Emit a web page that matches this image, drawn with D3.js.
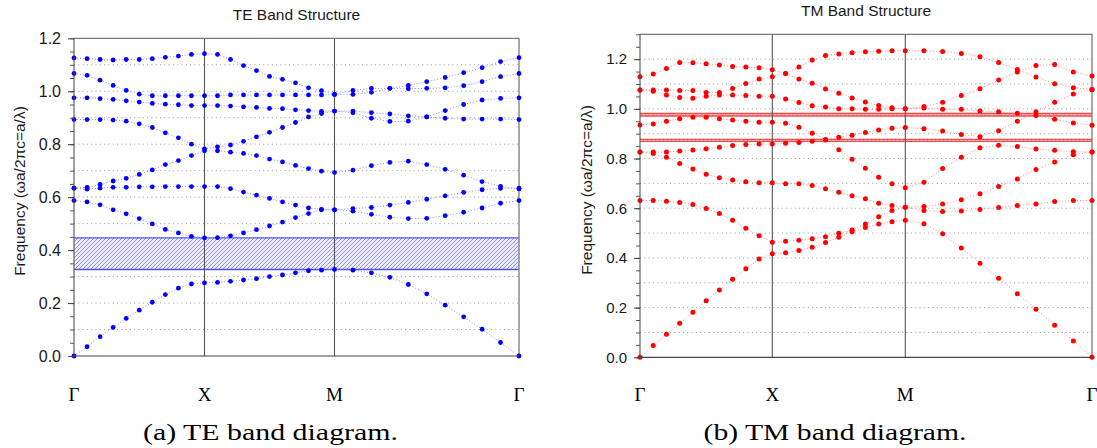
<!DOCTYPE html>
<html>
<head>
<meta charset="utf-8">
<script src="https://cdn.jsdelivr.net/npm/d3@7"></script>
<style>
body { margin: 0; background: #fff; }
svg text { font-family: "Liberation Sans", Arial, sans-serif; }
</style>
</head>
<body>
<div id="chart"></div>
<script>
// k-path: G -> X -> M -> G, 10 steps per segment
var kLabels = ["Γ", "X", "M", "Γ"];
var kIndex = [0, 10, 20, 30];

// TE bands (frequency wa/2pic), 31 k-points each
var te1 = [0, 0.035, 0.073, 0.108, 0.142, 0.173, 0.203, 0.232, 0.256, 0.272, 0.276,
  0.278, 0.282, 0.287, 0.292, 0.300, 0.306, 0.314, 0.322, 0.324, 0.327,
  0.324, 0.314, 0.297, 0.270, 0.235, 0.192, 0.148, 0.101, 0.051, 0];
var te2 = [0.587, 0.582, 0.571, 0.552, 0.537, 0.519, 0.499, 0.478, 0.465, 0.452, 0.446,
  0.447, 0.454, 0.465, 0.477, 0.491, 0.506, 0.523, 0.538, 0.552, 0.552,
  0.547, 0.535, 0.524, 0.519, 0.520, 0.530, 0.543, 0.559, 0.577, 0.587];
var te3 = [0.634, 0.630, 0.634, 0.637, 0.637, 0.639, 0.639, 0.640, 0.640, 0.640, 0.640,
  0.640, 0.632, 0.619, 0.608, 0.595, 0.582, 0.570, 0.559, 0.554, 0.552,
  0.557, 0.561, 0.570, 0.580, 0.592, 0.605, 0.618, 0.628, 0.633, 0.634];
var te4 = [0.634, 0.637, 0.648, 0.661, 0.671, 0.686, 0.703, 0.723, 0.738, 0.757, 0.775,
  0.775, 0.770, 0.765, 0.757, 0.744, 0.733, 0.720, 0.708, 0.698, 0.693,
  0.702, 0.719, 0.731, 0.736, 0.723, 0.705, 0.683, 0.659, 0.641, 0.631];
var te5 = [0.893, 0.893, 0.893, 0.891, 0.887, 0.877, 0.863, 0.843, 0.824, 0.800, 0.782,
  0.790, 0.797, 0.811, 0.828, 0.845, 0.863, 0.882, 0.903, 0.916, 0.925,
  0.919, 0.898, 0.886, 0.887, 0.903, 0.898, 0.895, 0.895, 0.895, 0.893];
var te6 = [0.975, 0.975, 0.972, 0.969, 0.964, 0.959, 0.954, 0.951, 0.949, 0.946, 0.946,
  0.946, 0.944, 0.941, 0.939, 0.935, 0.934, 0.930, 0.927, 0.924, 0.925,
  0.925, 0.919, 0.914, 0.907, 0.903, 0.927, 0.950, 0.967, 0.973, 0.975];
var te7 = [1.067, 1.060, 1.042, 1.022, 1.003, 0.989, 0.983, 0.983, 0.983, 0.983, 0.983,
  0.983, 0.986, 0.986, 0.986, 0.986, 0.986, 0.986, 0.986, 0.986, 0.988,
  0.988, 0.996, 1.011, 1.009, 1.011, 1.013, 1.021, 1.036, 1.055, 1.067];
var te8 = [1.126, 1.123, 1.120, 1.118, 1.120, 1.120, 1.123, 1.128, 1.133, 1.139, 1.142,
  1.139, 1.120, 1.097, 1.078, 1.056, 1.045, 1.032, 1.013, 1.002, 0.988,
  1.003, 1.011, 1.011, 1.022, 1.036, 1.052, 1.070, 1.089, 1.112, 1.127];
var teBands = [te1, te2, te3, te4, te5, te6, te7, te8];
var teGaps = [[0.327, 0.446]];

// TM bands
var tm1 = [0, 0.047, 0.093, 0.137, 0.181, 0.228, 0.271, 0.314, 0.356, 0.396, 0.417,
  0.421, 0.430, 0.443, 0.462, 0.483, 0.505, 0.522, 0.536, 0.546, 0.552,
  0.538, 0.497, 0.440, 0.379, 0.318, 0.256, 0.193, 0.129, 0.066, 0];
var tm2 = [0.631, 0.631, 0.628, 0.623, 0.615, 0.599, 0.579, 0.552, 0.519, 0.489, 0.463,
  0.467, 0.471, 0.477, 0.485, 0.499, 0.512, 0.536, 0.566, 0.591, 0.604,
  0.591, 0.587, 0.589, 0.595, 0.603, 0.611, 0.617, 0.627, 0.631, 0.631];
var tm3 = [0.826, 0.820, 0.805, 0.780, 0.758, 0.737, 0.723, 0.714, 0.707, 0.703, 0.703,
  0.699, 0.698, 0.691, 0.678, 0.664, 0.650, 0.638, 0.620, 0.611, 0.604,
  0.607, 0.617, 0.634, 0.658, 0.687, 0.718, 0.756, 0.786, 0.815, 0.826];
var tm4 = [0.826, 0.826, 0.826, 0.830, 0.834, 0.839, 0.845, 0.852, 0.856, 0.858, 0.858,
  0.861, 0.865, 0.870, 0.875, 0.886, 0.894, 0.905, 0.915, 0.922, 0.925,
  0.920, 0.911, 0.897, 0.888, 0.912, 0.950, 0.988, 1.027, 1.060, 1.078];
var tm5 = [0.935, 0.939, 0.950, 0.960, 0.966, 0.966, 0.960, 0.955, 0.950, 0.946, 0.946,
  0.942, 0.926, 0.902, 0.877, 0.835, 0.797, 0.761, 0.725, 0.698, 0.682,
  0.705, 0.760, 0.805, 0.843, 0.853, 0.848, 0.838, 0.833, 0.827, 0.826];
var tm6 = [1.076, 1.071, 1.056, 1.046, 1.043, 1.051, 1.056, 1.056, 1.054, 1.051, 1.051,
  1.040, 1.026, 1.012, 1.007, 1.000, 1.000, 0.998, 0.998, 1.000, 1.000,
  1.003, 0.998, 0.998, 0.991, 0.988, 0.982, 0.973, 0.958, 0.943, 0.934];
var tm7 = [1.076, 1.076, 1.076, 1.074, 1.074, 1.066, 1.066, 1.082, 1.102, 1.120, 1.129,
  1.142, 1.168, 1.197, 1.215, 1.221, 1.226, 1.230, 1.232, 1.234, 1.234,
  1.234, 1.231, 1.223, 1.210, 1.186, 1.158, 1.128, 1.101, 1.085, 1.078];
var tm8 = [1.129, 1.140, 1.162, 1.187, 1.185, 1.181, 1.176, 1.170, 1.168, 1.165, 1.157,
  1.142, 1.120, 1.103, 1.080, 1.063, 1.044, 1.028, 1.013, 1.004, 1.000,
  1.009, 1.027, 1.054, 1.081, 1.116, 1.148, 1.174, 1.178, 1.148, 1.132];
var tmBands = [tm1, tm2, tm3, tm4, tm5, tm6, tm7, tm8];
var tmGaps = [[0.869, 0.877], [0.971, 0.981]];

var svg = d3.select("#chart").append("svg")
    .attr("width", 1097)
    .attr("height", 448);

var defs = svg.append("defs");

// diagonal hatch for the band gaps
function hatch(id, color, bg) {
    var pat = defs.append("pattern")
        .attr("id", id)
        .attr("patternUnits", "userSpaceOnUse")
        .attr("width", 4)
        .attr("height", 4);
    pat.append("rect").attr("width", 4).attr("height", 4).attr("fill", bg);
    pat.append("path")
        .attr("d", "M-1,1 l2,-2 M0,4 l4,-4 M3,5 l2,-2")
        .attr("stroke", color)
        .attr("stroke-width", 1);
}
hatch("hatchTE", "#8f8fff", "#eeeeff");
hatch("hatchTM", "#ff8f8f", "#ffd6d6");

function drawPanel(p) {
    var x = d3.scaleLinear().domain(kIndex).range(p.xs);
    var y = d3.scaleLinear().domain([0, p.yMax]).range([p.bottom, p.top]);
    var left = p.xs[0], right = p.xs[3];
    var g = svg.append("g");

    // dotted grid every 0.1
    var gridVals = d3.range(1, Math.round(p.yMax * 10)).map(d => d / 10);
    g.selectAll(".grid").data(gridVals).enter().append("line")
        .attr("x1", left).attr("x2", right)
        .attr("y1", d => y(d)).attr("y2", d => y(d))
        .attr("stroke", "#9a9a9a")
        .attr("stroke-dasharray", "1,3.3");

    // band gaps
    p.gaps.forEach(function(gp) {
        g.append("rect")
            .attr("x", left).attr("width", right - left)
            .attr("y", y(gp[1])).attr("height", y(gp[0]) - y(gp[1]))
            .attr("fill", "url(#" + p.hatch + ")");
        gp.forEach(function(v) {
            g.append("line")
                .attr("x1", left).attr("x2", right)
                .attr("y1", y(v)).attr("y2", y(v))
                .attr("stroke", p.gapColor)
                .attr("stroke-width", 1.4);
        });
    });

    // symmetry point lines
    g.selectAll(".kline").data(kIndex.slice(1, 3)).enter().append("line")
        .attr("x1", d => x(d)).attr("x2", d => x(d))
        .attr("y1", p.top).attr("y2", p.bottom)
        .attr("stroke", "#555")
        .attr("stroke-width", 1.1);

    // frame top / right
    g.append("path")
        .attr("d", `M${left},${p.top}H${right}V${p.bottom}`)
        .attr("fill", "none")
        .attr("stroke", "#7a7a7a")
        .attr("stroke-width", 1.3);

    // bands
    var line = d3.line().x((d, i) => x(i)).y(d => y(d));
    g.selectAll(".band").data(p.bands).enter().append("path")
        .attr("d", line)
        .attr("fill", "none")
        .attr("stroke", p.lineColor)
        .attr("stroke-width", 1)
        .attr("stroke-dasharray", "1,2");

    p.bands.forEach(function(b) {
        g.selectAll(null).data(b).enter().append("circle")
            .attr("cx", (d, i) => x(i))
            .attr("cy", d => y(d))
            .attr("r", p.r)
            .attr("fill", p.color);
    });

    // left axis with minor ticks
    var minor = d3.range(0, Math.round(p.yMax * 20) + 1).map(d => d / 20);
    g.append("g")
        .attr("transform", `translate(${left},0)`)
        .call(d3.axisLeft(y).tickValues(minor).tickSize(4).tickFormat(""))
        .call(a => a.select(".domain").remove())
        .selectAll("line").attr("stroke", "#555");

    var major = d3.range(0, 7).map(d => d * 0.2);
    var ax = g.append("g")
        .attr("transform", `translate(${left},0)`)
        .call(d3.axisLeft(y).tickValues(major).tickSize(6).tickSizeOuter(0).tickPadding(7)
            .tickFormat(d3.format(".1f")));
    ax.select(".domain").attr("stroke", "#444").attr("d", `M0,${p.top}V${p.bottom}`);
    ax.selectAll("line").attr("stroke", "#444");
    ax.selectAll("text")
        .attr("font-size", p.tickSize)
        .attr("fill", "#1a1a1a");

    // bottom line
    g.append("line")
        .attr("x1", left).attr("x2", right)
        .attr("y1", p.bottom).attr("y2", p.bottom)
        .attr("stroke", "#444").attr("stroke-width", 1.2);

    // k labels
    g.selectAll(".klabel").data(kIndex).enter().append("text")
        .attr("x", d => x(d))
        .attr("y", 401)
        .attr("text-anchor", "middle")
        .style("font-family", "'Liberation Serif', 'Times New Roman', serif")
        .attr("font-size", 19)
        .text((d, i) => kLabels[i]);

    // title
    g.append("text")
        .attr("x", (left + right) / 2)
        .attr("y", p.titleY)
        .attr("text-anchor", "middle")
        .attr("font-size", 15.5)
        .attr("fill", "#1a1a1a")
        .text(p.title);

    // y label
    g.append("text")
        .attr("transform", `translate(${p.labelX},${p.labelY}) rotate(-90)`)
        .attr("text-anchor", "middle")
        .attr("dominant-baseline", "central")
        .attr("font-size", 15.5)
        .attr("fill", "#1a1a1a")
        .text("Frequency (ωa/2πc=a/λ)");

    // caption
    g.append("text")
        .attr("x", p.capX)
        .attr("y", 440)
        .attr("text-anchor", "middle")
        .style("font-family", "'Liberation Serif', 'Times New Roman', serif")
        .attr("font-size", 24)
        .attr("textLength", p.capW)
        .attr("lengthAdjust", "spacingAndGlyphs")
        .text(p.caption);
}

drawPanel({
    xs: [74, 204.5, 334.5, 519], top: 38.3, bottom: 356, yMax: 1.2,
    bands: teBands, gaps: teGaps, hatch: "hatchTE", gapColor: "#5050ff",
    color: "#0000ff", lineColor: "#8c8cff", tickSize: 16, r: 2.4,
    title: "TE Band Structure", titleY: 20,
    labelX: 19, labelY: 191,
    caption: "(a) TE band diagram.", capX: 270.5, capW: 255
});

drawPanel({
    xs: [640, 772.3, 905.3, 1092], top: 34.3, bottom: 357.3, yMax: 1.3,
    bands: tmBands, gaps: tmGaps, hatch: "hatchTM", gapColor: "#f04848",
    color: "#ff0000", lineColor: "#ff8c8c", tickSize: 15, r: 2.5,
    title: "TM Band Structure", titleY: 16,
    labelX: 586, labelY: 190,
    caption: "(b) TM band diagram.", capX: 835, capW: 263
});
</script>
</body>
</html>
